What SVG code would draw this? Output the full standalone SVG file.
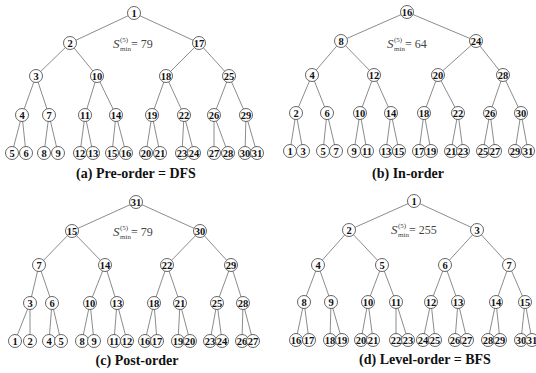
<svg xmlns="http://www.w3.org/2000/svg" width="536" height="373" viewBox="0 0 536 373">
<style>
  .edges { fill: none; stroke: #6e6e6e; stroke-width: 0.8; }
  .node circle { fill: #ffffff; stroke: #555555; stroke-width: 0.9; }
  .node text { font-weight: bold; font-size: 10.5px; text-anchor: middle; fill: #111111; }
  .cap { font-weight: bold; font-size: 14px; text-anchor: middle; fill: #111111; }
  .s { fill: #444444; }
  .s-main { font-size: 13px; font-style: italic; }
  .s-idx { font-size: 7px; }
  .s-val { font-size: 12px; }
</style>
<rect width="536" height="373" fill="#ffffff"/>

<!-- connectors -->
<g id="connectors" class="edges">
  <path id="edges-a" d="M134 13L70 43M134 13L199 43M70 43L36 76M70 43L97 76M199 43L166 76M199 43L229 76M36 76L22 115M36 76L49 115M97 76L85 115M97 76L116 115M166 76L152 115M166 76L184 115M229 76L214 115M229 76L246 115M22 115L12 153M22 115L26 153M49 115L44 153M49 115L58 153M85 115L80 153M85 115L93 153M116 115L112 153M116 115L126 153M152 115L146 153M152 115L160 153M184 115L182 153M184 115L194 153M214 115L214 153M214 115L228 153M246 115L245 153M246 115L257 153"/>
  <path id="edges-b" d="M407 12L341 41M407 12L476 41M341 41L312 75M341 41L374 75M476 41L438 75M476 41L503 75M312 75L296 113M312 75L327 113M374 75L360 113M374 75L391 113M438 75L424 113M438 75L458 113M503 75L490 113M503 75L521 113M296 113L290 151M296 113L303 151M327 113L323 151M327 113L336 151M360 113L354 151M360 113L367 151M391 113L386 151M391 113L399 151M424 113L419 151M424 113L431 151M458 113L451 151M458 113L463 151M490 113L483 151M490 113L495 151M521 113L515 151M521 113L528 151"/>
  <path id="edges-c" d="M136 202L72 231M136 202L200 231M72 231L39 265M72 231L105 265M200 231L167 265M200 231L231 265M39 265L30 303M39 265L52 303M105 265L90 303M105 265L117 303M167 265L154 303M167 265L180 303M231 265L217 303M231 265L243 303M30 303L15 341M30 303L30 341M52 303L49 341M52 303L61 341M90 303L82 341M90 303L94 341M117 303L114 341M117 303L127 341M154 303L145 341M154 303L157 341M180 303L178 341M180 303L190 341M217 303L210 341M217 303L222 341M243 303L242 341M243 303L253 341"/>
  <path id="edges-d" d="M414 201L349 230M414 201L477 230M349 230L318 265M349 230L382 265M477 230L445 265M477 230L509 265M318 265L304 302M318 265L331 302M382 265L368 302M382 265L396 302M445 265L431 302M445 265L458 302M509 265L496 302M509 265L525 302M304 302L296 340M304 302L309 340M331 302L330 340M331 302L342 340M368 302L361 340M368 302L373 340M396 302L396 340M396 302L408 340M431 302L423 340M431 302L435 340M458 302L455 340M458 302L467 340M496 302L488 340M496 302L500 340M525 302L521 340M525 302L532 340"/>
</g>

<g font-family="Liberation Serif, DejaVu Serif, serif">
<!-- (a) pre-order -->
<g id="tree-a">
  <g id="a-1" class="node"><circle cx="134" cy="13" r="6.5"/><text x="134" y="16.5">1</text></g>
  <g id="a-2" class="node"><circle cx="70" cy="43" r="6.5"/><text x="70" y="46.5">2</text></g>
  <g id="a-17" class="node"><circle cx="199" cy="43" r="6.5"/><text x="199" y="46.5">17</text></g>
  <g id="a-3" class="node"><circle cx="36" cy="76" r="6.5"/><text x="36" y="79.5">3</text></g>
  <g id="a-10" class="node"><circle cx="97" cy="76" r="6.5"/><text x="97" y="79.5">10</text></g>
  <g id="a-18" class="node"><circle cx="166" cy="76" r="6.5"/><text x="166" y="79.5">18</text></g>
  <g id="a-25" class="node"><circle cx="229" cy="76" r="6.5"/><text x="229" y="79.5">25</text></g>
  <g id="a-4" class="node"><circle cx="22" cy="115" r="6.5"/><text x="22" y="118.5">4</text></g>
  <g id="a-7" class="node"><circle cx="49" cy="115" r="6.5"/><text x="49" y="118.5">7</text></g>
  <g id="a-11" class="node"><circle cx="85" cy="115" r="6.5"/><text x="85" y="118.5">11</text></g>
  <g id="a-14" class="node"><circle cx="116" cy="115" r="6.5"/><text x="116" y="118.5">14</text></g>
  <g id="a-19" class="node"><circle cx="152" cy="115" r="6.5"/><text x="152" y="118.5">19</text></g>
  <g id="a-22" class="node"><circle cx="184" cy="115" r="6.5"/><text x="184" y="118.5">22</text></g>
  <g id="a-26" class="node"><circle cx="214" cy="115" r="6.5"/><text x="214" y="118.5">26</text></g>
  <g id="a-29" class="node"><circle cx="246" cy="115" r="6.5"/><text x="246" y="118.5">29</text></g>
  <g id="a-5" class="node"><circle cx="12" cy="153" r="6.5"/><text x="12" y="156.5">5</text></g>
  <g id="a-6" class="node"><circle cx="26" cy="153" r="6.5"/><text x="26" y="156.5">6</text></g>
  <g id="a-8" class="node"><circle cx="44" cy="153" r="6.5"/><text x="44" y="156.5">8</text></g>
  <g id="a-9" class="node"><circle cx="58" cy="153" r="6.5"/><text x="58" y="156.5">9</text></g>
  <g id="a-12" class="node"><circle cx="80" cy="153" r="6.5"/><text x="80" y="156.5">12</text></g>
  <g id="a-13" class="node"><circle cx="93" cy="153" r="6.5"/><text x="93" y="156.5">13</text></g>
  <g id="a-15" class="node"><circle cx="112" cy="153" r="6.5"/><text x="112" y="156.5">15</text></g>
  <g id="a-16" class="node"><circle cx="126" cy="153" r="6.5"/><text x="126" y="156.5">16</text></g>
  <g id="a-20" class="node"><circle cx="146" cy="153" r="6.5"/><text x="146" y="156.5">20</text></g>
  <g id="a-21" class="node"><circle cx="160" cy="153" r="6.5"/><text x="160" y="156.5">21</text></g>
  <g id="a-23" class="node"><circle cx="182" cy="153" r="6.5"/><text x="182" y="156.5">23</text></g>
  <g id="a-24" class="node"><circle cx="194" cy="153" r="6.5"/><text x="194" y="156.5">24</text></g>
  <g id="a-27" class="node"><circle cx="214" cy="153" r="6.5"/><text x="214" y="156.5">27</text></g>
  <g id="a-28" class="node"><circle cx="228" cy="153" r="6.5"/><text x="228" y="156.5">28</text></g>
  <g id="a-30" class="node"><circle cx="245" cy="153" r="6.5"/><text x="245" y="156.5">30</text></g>
  <g id="a-31" class="node"><circle cx="257" cy="153" r="6.5"/><text x="257" y="156.5">31</text></g>
  <g id="a-smin" class="s">
    <text x="113" y="48" class="s-main">S</text>
    <text x="120" y="42" class="s-idx">(5)</text>
    <text x="120" y="51" class="s-idx">min</text>
    <text x="131" y="48" class="s-val">= 79</text>
  </g>
  <text x="136" y="178" class="cap">(a) Pre-order = DFS</text>
</g>

<!-- (b) in-order -->
<g id="tree-b">
  <g id="b-16" class="node"><circle cx="407" cy="12" r="6.5"/><text x="407" y="15.5">16</text></g>
  <g id="b-8" class="node"><circle cx="341" cy="41" r="6.5"/><text x="341" y="44.5">8</text></g>
  <g id="b-24" class="node"><circle cx="476" cy="41" r="6.5"/><text x="476" y="44.5">24</text></g>
  <g id="b-4" class="node"><circle cx="312" cy="75" r="6.5"/><text x="312" y="78.5">4</text></g>
  <g id="b-12" class="node"><circle cx="374" cy="75" r="6.5"/><text x="374" y="78.5">12</text></g>
  <g id="b-20" class="node"><circle cx="438" cy="75" r="6.5"/><text x="438" y="78.5">20</text></g>
  <g id="b-28" class="node"><circle cx="503" cy="75" r="6.5"/><text x="503" y="78.5">28</text></g>
  <g id="b-2" class="node"><circle cx="296" cy="113" r="6.5"/><text x="296" y="116.5">2</text></g>
  <g id="b-6" class="node"><circle cx="327" cy="113" r="6.5"/><text x="327" y="116.5">6</text></g>
  <g id="b-10" class="node"><circle cx="360" cy="113" r="6.5"/><text x="360" y="116.5">10</text></g>
  <g id="b-14" class="node"><circle cx="391" cy="113" r="6.5"/><text x="391" y="116.5">14</text></g>
  <g id="b-18" class="node"><circle cx="424" cy="113" r="6.5"/><text x="424" y="116.5">18</text></g>
  <g id="b-22" class="node"><circle cx="458" cy="113" r="6.5"/><text x="458" y="116.5">22</text></g>
  <g id="b-26" class="node"><circle cx="490" cy="113" r="6.5"/><text x="490" y="116.5">26</text></g>
  <g id="b-30" class="node"><circle cx="521" cy="113" r="6.5"/><text x="521" y="116.5">30</text></g>
  <g id="b-1" class="node"><circle cx="290" cy="151" r="6.5"/><text x="290" y="154.5">1</text></g>
  <g id="b-3" class="node"><circle cx="303" cy="151" r="6.5"/><text x="303" y="154.5">3</text></g>
  <g id="b-5" class="node"><circle cx="323" cy="151" r="6.5"/><text x="323" y="154.5">5</text></g>
  <g id="b-7" class="node"><circle cx="336" cy="151" r="6.5"/><text x="336" y="154.5">7</text></g>
  <g id="b-9" class="node"><circle cx="354" cy="151" r="6.5"/><text x="354" y="154.5">9</text></g>
  <g id="b-11" class="node"><circle cx="367" cy="151" r="6.5"/><text x="367" y="154.5">11</text></g>
  <g id="b-13" class="node"><circle cx="386" cy="151" r="6.5"/><text x="386" y="154.5">13</text></g>
  <g id="b-15" class="node"><circle cx="399" cy="151" r="6.5"/><text x="399" y="154.5">15</text></g>
  <g id="b-17" class="node"><circle cx="419" cy="151" r="6.5"/><text x="419" y="154.5">17</text></g>
  <g id="b-19" class="node"><circle cx="431" cy="151" r="6.5"/><text x="431" y="154.5">19</text></g>
  <g id="b-21" class="node"><circle cx="451" cy="151" r="6.5"/><text x="451" y="154.5">21</text></g>
  <g id="b-23" class="node"><circle cx="463" cy="151" r="6.5"/><text x="463" y="154.5">23</text></g>
  <g id="b-25" class="node"><circle cx="483" cy="151" r="6.5"/><text x="483" y="154.5">25</text></g>
  <g id="b-27" class="node"><circle cx="495" cy="151" r="6.5"/><text x="495" y="154.5">27</text></g>
  <g id="b-29" class="node"><circle cx="515" cy="151" r="6.5"/><text x="515" y="154.5">29</text></g>
  <g id="b-31" class="node"><circle cx="528" cy="151" r="6.5"/><text x="528" y="154.5">31</text></g>
  <g id="b-smin" class="s">
    <text x="387" y="48" class="s-main">S</text>
    <text x="394" y="42" class="s-idx">(5)</text>
    <text x="394" y="51" class="s-idx">min</text>
    <text x="405" y="48" class="s-val">= 64</text>
  </g>
  <text x="408" y="178" class="cap">(b) In-order</text>
</g>

<!-- (c) post-order -->
<g id="tree-c">
  <g id="c-31" class="node"><circle cx="136" cy="202" r="6.5"/><text x="136" y="205.5">31</text></g>
  <g id="c-15" class="node"><circle cx="72" cy="231" r="6.5"/><text x="72" y="234.5">15</text></g>
  <g id="c-30" class="node"><circle cx="200" cy="231" r="6.5"/><text x="200" y="234.5">30</text></g>
  <g id="c-7" class="node"><circle cx="39" cy="265" r="6.5"/><text x="39" y="268.5">7</text></g>
  <g id="c-14" class="node"><circle cx="105" cy="265" r="6.5"/><text x="105" y="268.5">14</text></g>
  <g id="c-22" class="node"><circle cx="167" cy="265" r="6.5"/><text x="167" y="268.5">22</text></g>
  <g id="c-29" class="node"><circle cx="231" cy="265" r="6.5"/><text x="231" y="268.5">29</text></g>
  <g id="c-3" class="node"><circle cx="30" cy="303" r="6.5"/><text x="30" y="306.5">3</text></g>
  <g id="c-6" class="node"><circle cx="52" cy="303" r="6.5"/><text x="52" y="306.5">6</text></g>
  <g id="c-10" class="node"><circle cx="90" cy="303" r="6.5"/><text x="90" y="306.5">10</text></g>
  <g id="c-13" class="node"><circle cx="117" cy="303" r="6.5"/><text x="117" y="306.5">13</text></g>
  <g id="c-18" class="node"><circle cx="154" cy="303" r="6.5"/><text x="154" y="306.5">18</text></g>
  <g id="c-21" class="node"><circle cx="180" cy="303" r="6.5"/><text x="180" y="306.5">21</text></g>
  <g id="c-25" class="node"><circle cx="217" cy="303" r="6.5"/><text x="217" y="306.5">25</text></g>
  <g id="c-28" class="node"><circle cx="243" cy="303" r="6.5"/><text x="243" y="306.5">28</text></g>
  <g id="c-1" class="node"><circle cx="15" cy="341" r="6.5"/><text x="15" y="344.5">1</text></g>
  <g id="c-2" class="node"><circle cx="30" cy="341" r="6.5"/><text x="30" y="344.5">2</text></g>
  <g id="c-4" class="node"><circle cx="49" cy="341" r="6.5"/><text x="49" y="344.5">4</text></g>
  <g id="c-5" class="node"><circle cx="61" cy="341" r="6.5"/><text x="61" y="344.5">5</text></g>
  <g id="c-8" class="node"><circle cx="82" cy="341" r="6.5"/><text x="82" y="344.5">8</text></g>
  <g id="c-9" class="node"><circle cx="94" cy="341" r="6.5"/><text x="94" y="344.5">9</text></g>
  <g id="c-11" class="node"><circle cx="114" cy="341" r="6.5"/><text x="114" y="344.5">11</text></g>
  <g id="c-12" class="node"><circle cx="127" cy="341" r="6.5"/><text x="127" y="344.5">12</text></g>
  <g id="c-16" class="node"><circle cx="145" cy="341" r="6.5"/><text x="145" y="344.5">16</text></g>
  <g id="c-17" class="node"><circle cx="157" cy="341" r="6.5"/><text x="157" y="344.5">17</text></g>
  <g id="c-19" class="node"><circle cx="178" cy="341" r="6.5"/><text x="178" y="344.5">19</text></g>
  <g id="c-20" class="node"><circle cx="190" cy="341" r="6.5"/><text x="190" y="344.5">20</text></g>
  <g id="c-23" class="node"><circle cx="210" cy="341" r="6.5"/><text x="210" y="344.5">23</text></g>
  <g id="c-24" class="node"><circle cx="222" cy="341" r="6.5"/><text x="222" y="344.5">24</text></g>
  <g id="c-26" class="node"><circle cx="242" cy="341" r="6.5"/><text x="242" y="344.5">26</text></g>
  <g id="c-27" class="node"><circle cx="253" cy="341" r="6.5"/><text x="253" y="344.5">27</text></g>
  <g id="c-smin" class="s">
    <text x="113" y="236" class="s-main">S</text>
    <text x="120" y="230" class="s-idx">(5)</text>
    <text x="120" y="239" class="s-idx">min</text>
    <text x="131" y="236" class="s-val">= 79</text>
  </g>
  <text x="137" y="365" class="cap">(c) Post-order</text>
</g>

<!-- (d) level-order -->
<g id="tree-d">
  <g id="d-1" class="node"><circle cx="414" cy="201" r="6.5"/><text x="414" y="204.5">1</text></g>
  <g id="d-2" class="node"><circle cx="349" cy="230" r="6.5"/><text x="349" y="233.5">2</text></g>
  <g id="d-3" class="node"><circle cx="477" cy="230" r="6.5"/><text x="477" y="233.5">3</text></g>
  <g id="d-4" class="node"><circle cx="318" cy="265" r="6.5"/><text x="318" y="268.5">4</text></g>
  <g id="d-5" class="node"><circle cx="382" cy="265" r="6.5"/><text x="382" y="268.5">5</text></g>
  <g id="d-6" class="node"><circle cx="445" cy="265" r="6.5"/><text x="445" y="268.5">6</text></g>
  <g id="d-7" class="node"><circle cx="509" cy="265" r="6.5"/><text x="509" y="268.5">7</text></g>
  <g id="d-8" class="node"><circle cx="304" cy="302" r="6.5"/><text x="304" y="305.5">8</text></g>
  <g id="d-9" class="node"><circle cx="331" cy="302" r="6.5"/><text x="331" y="305.5">9</text></g>
  <g id="d-10" class="node"><circle cx="368" cy="302" r="6.5"/><text x="368" y="305.5">10</text></g>
  <g id="d-11" class="node"><circle cx="396" cy="302" r="6.5"/><text x="396" y="305.5">11</text></g>
  <g id="d-12" class="node"><circle cx="431" cy="302" r="6.5"/><text x="431" y="305.5">12</text></g>
  <g id="d-13" class="node"><circle cx="458" cy="302" r="6.5"/><text x="458" y="305.5">13</text></g>
  <g id="d-14" class="node"><circle cx="496" cy="302" r="6.5"/><text x="496" y="305.5">14</text></g>
  <g id="d-15" class="node"><circle cx="525" cy="302" r="6.5"/><text x="525" y="305.5">15</text></g>
  <g id="d-16" class="node"><circle cx="296" cy="340" r="6.5"/><text x="296" y="343.5">16</text></g>
  <g id="d-17" class="node"><circle cx="309" cy="340" r="6.5"/><text x="309" y="343.5">17</text></g>
  <g id="d-18" class="node"><circle cx="330" cy="340" r="6.5"/><text x="330" y="343.5">18</text></g>
  <g id="d-19" class="node"><circle cx="342" cy="340" r="6.5"/><text x="342" y="343.5">19</text></g>
  <g id="d-20" class="node"><circle cx="361" cy="340" r="6.5"/><text x="361" y="343.5">20</text></g>
  <g id="d-21" class="node"><circle cx="373" cy="340" r="6.5"/><text x="373" y="343.5">21</text></g>
  <g id="d-22" class="node"><circle cx="396" cy="340" r="6.5"/><text x="396" y="343.5">22</text></g>
  <g id="d-23" class="node"><circle cx="408" cy="340" r="6.5"/><text x="408" y="343.5">23</text></g>
  <g id="d-24" class="node"><circle cx="423" cy="340" r="6.5"/><text x="423" y="343.5">24</text></g>
  <g id="d-25" class="node"><circle cx="435" cy="340" r="6.5"/><text x="435" y="343.5">25</text></g>
  <g id="d-26" class="node"><circle cx="455" cy="340" r="6.5"/><text x="455" y="343.5">26</text></g>
  <g id="d-27" class="node"><circle cx="467" cy="340" r="6.5"/><text x="467" y="343.5">27</text></g>
  <g id="d-28" class="node"><circle cx="488" cy="340" r="6.5"/><text x="488" y="343.5">28</text></g>
  <g id="d-29" class="node"><circle cx="500" cy="340" r="6.5"/><text x="500" y="343.5">29</text></g>
  <g id="d-30" class="node"><circle cx="521" cy="340" r="6.5"/><text x="521" y="343.5">30</text></g>
  <g id="d-31" class="node"><circle cx="532" cy="340" r="6.5"/><text x="532" y="343.5">31</text></g>
  <g id="d-smin" class="s">
    <text x="391" y="234" class="s-main">S</text>
    <text x="398" y="228" class="s-idx">(5)</text>
    <text x="398" y="237" class="s-idx">min</text>
    <text x="409" y="234" class="s-val">= 255</text>
  </g>
  <text x="425" y="364" class="cap">(d) Level-order = BFS</text>
</g>
</g>
</svg>
